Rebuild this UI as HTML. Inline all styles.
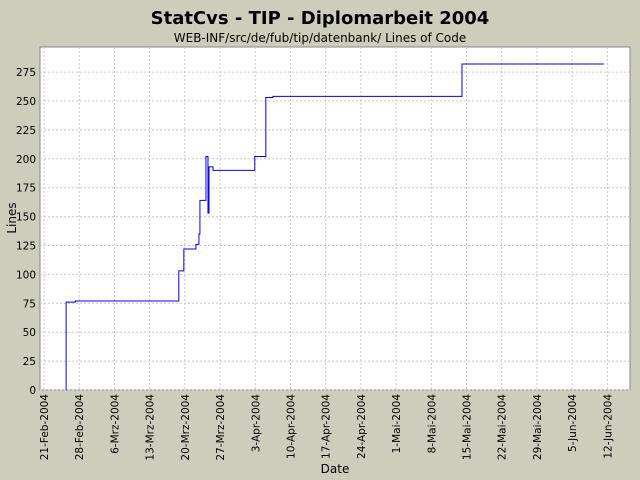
<!DOCTYPE html>
<html><head><meta charset="utf-8"><style>
body{margin:0;background:#cdcdbc;}
svg{display:block;font-family:"DejaVu Sans","Liberation Sans",sans-serif;}
</style></head><body>
<svg id="c" width="640" height="480">
<rect x="0" y="0" width="640" height="480" fill="#cdcdbc"/>
<text x="320" y="24" text-anchor="middle" font-size="18" font-weight="bold" font-family="DejaVu Sans, sans-serif">StatCvs - TIP - Diplomarbeit 2004</text>
<text x="320" y="42" text-anchor="middle" font-size="12" font-family="DejaVu Sans, sans-serif">WEB-INF/src/de/fub/tip/datenbank/ Lines of Code</text>
<rect x="40" y="47" width="590" height="343" fill="#fff" stroke="#888"/>
<g id="grid"></g><g id="ticks"></g>
<path id="line" fill="none" stroke="#0000ff" stroke-width="1"/>
<text x="0" y="0" transform="translate(16,218) rotate(-90)" text-anchor="middle" font-size="12" font-family="DejaVu Sans, sans-serif">Lines</text>
<text x="335" y="473" text-anchor="middle" font-size="12" font-family="DejaVu Sans, sans-serif">Date</text>
</svg>
<script>
const dayOffsets=[4.4,4.4,6.2,26.8,27.8,30.2,30.8,31.0,32.2,32.6,32.8,33.6,41.9,44.1,45.5,83.1,111.3];
const lineValues=[0,76,77,103,122,126,135,164,202,153,193,190,202,253,254,282,282];
const yTicks=[0,25,50,75,100,125,150,175,200,225,250,275];
const xTickLabels=["21-Feb-2004","28-Feb-2004","6-Mrz-2004","13-Mrz-2004","20-Mrz-2004","27-Mrz-2004","3-Apr-2004","10-Apr-2004","17-Apr-2004","24-Apr-2004","1-Mai-2004","8-Mai-2004","15-Mai-2004","22-Mai-2004","29-Mai-2004","5-Jun-2004","12-Jun-2004"];
const NS="http://www.w3.org/2000/svg";
const X=d=>44+d*5.03;
const Y=v=>390-v*1.156;
const grid=document.getElementById('grid'),ticks=document.getElementById('ticks');
function mk(tag,attrs,parent){const e=document.createElementNS(NS,tag);for(const k in attrs)e.setAttribute(k,attrs[k]);parent.appendChild(e);return e;}
yTicks.forEach(v=>{
  const y=Y(v);
  const g=mk('line',{x1:40,x2:630,y1:y,y2:y,stroke:'#c8c8c8','stroke-dasharray':'2,2'},grid);
  
  
  const t=mk('text',{x:36,y:y+4,'text-anchor':'end','font-size':10.5},ticks);
  
  
  t.textContent=v;
});
xTickLabels.forEach((lab,i)=>{
  const x=X(i*7);
  const g=mk('line',{x1:x,x2:x,y1:47,y2:390,stroke:'#c8c8c8','stroke-dasharray':'2,2'},grid);
  
  
  const t=mk('text',{transform:`translate(${x+4},394) rotate(-90)`,'text-anchor':'end','font-size':10.5},ticks);
  
  
  t.textContent=lab;
});
let d='';
dayOffsets.forEach((dd,i)=>{
  const x=X(dd),y=Y(lineValues[i]);
  if(i===0)d+=`M${x},${y}`;else d+=`H${x}V${y}`;
});
document.getElementById('line').setAttribute('d',d);
</script>
</body></html>
